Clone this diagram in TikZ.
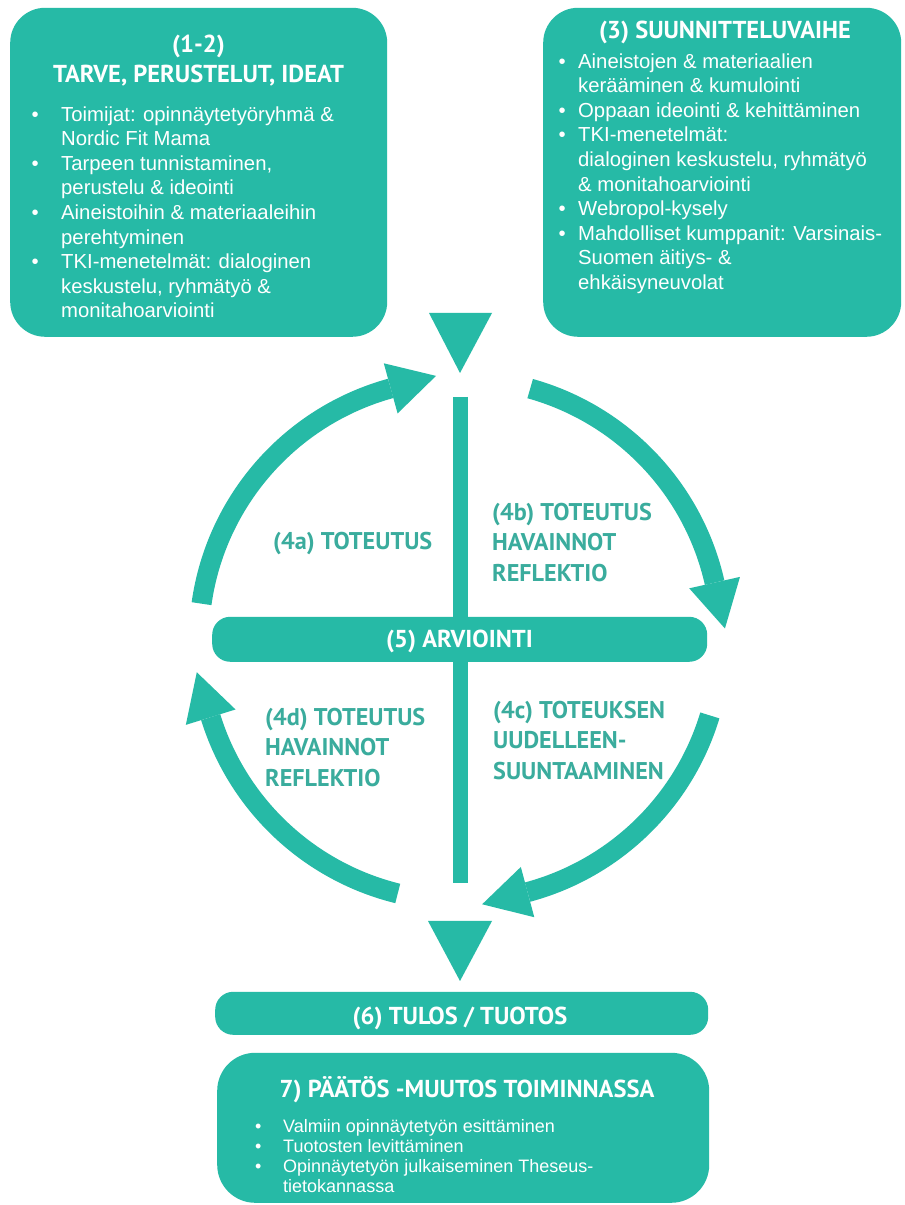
\documentclass[tikz,border=0pt]{standalone}
\usepackage{fontspec}
\setmainfont{Liberation Sans}
\newfontfamily\headfont{PT Sans}
\usetikzlibrary{calc}

\definecolor{tealfill}{RGB}{38,186,166}
\definecolor{tealtext}{RGB}{58,172,157}

\tikzset{
  panel/.style={fill=tealfill, draw=none, rounded corners=#1, inner sep=0pt, anchor=south west},
  headtext/.style={font=\headfont\bfseries\fontsize{24.5}{30}\selectfont, text=white, inner sep=0pt, anchor=base},
  phasetext/.style={font=\headfont\bfseries\fontsize{24.2}{30.5}\selectfont, text=tealtext, inner sep=0pt, anchor=north west, align=left},
  bodytext/.style={font=\fontsize{20.3}{24.6}\selectfont, text=white, inner sep=0pt, anchor=north west, align=left},
  smalltext/.style={font=\fontsize{18}{20}\selectfont, text=white, inner sep=0pt, anchor=north west, align=left},
  shaft/.style={draw=tealfill, line width=20pt},
  pointer/.style={fill=tealfill, draw=none}
}

% one curved arrow of the cycle: arc from #1 to #2 (degrees), head at #2
\newcommand\cyclearrow[2]{%
  \pgfmathsetmacro\tipangle{#2-90}%
  \draw[shaft] ($(C)+(#1:261)$) arc[start angle=#1, end angle=#2, radius=261];
  \fill[pointer] ($(C)+(#2:235)$) -- ($(C)+(#2:287)$) -- ($(C)+(#2:261)+(\tipangle:47)$) -- cycle;
}

\begin{document}
\begin{tikzpicture}[x=1pt,y=1pt]
\useasboundingbox (0,0) rectangle (905,1205);
\fill[white] (0,0) rectangle (905,1205);

% ---- top panels ----
\node[panel=35pt, minimum width=377pt, minimum height=329pt] (needs) at (10,868) {};
\node[headtext] (needsA) at (198.5,1152) {(1-2)};
\node[headtext] (needsB) at (198.5,1122) {TARVE, PERUSTELUT, IDEAT};
\node[bodytext] (needsList) at (31.5,1104) {\rule{0pt}{20pt}\makebox[29.5pt][l]{•}Toimijat: opinnäytetyöryhmä \&\\
\hspace*{29.5pt}Nordic Fit Mama\\
\makebox[29.5pt][l]{•}Tarpeen tunnistaminen,\\
\hspace*{29.5pt}perustelu \& ideointi\\
\makebox[29.5pt][l]{•}Aineistoihin \& materiaaleihin\\
\hspace*{29.5pt}perehtyminen\\
\makebox[29.5pt][l]{•}TKI-menetelmät: dialoginen\\
\hspace*{29.5pt}keskustelu, ryhmätyö \&\\
\hspace*{29.5pt}monitahoarviointi};

\node[panel=35pt, minimum width=358pt, minimum height=329pt] (plan) at (543,868) {};
\node[headtext] (planTitle) at (725,1166) {(3) SUUNNITTELUVAIHE};
\node[bodytext] (planList) at (558.5,1157) {\rule{0pt}{20pt}\makebox[19.5pt][l]{•}Aineistojen \& materiaalien\\
\hspace*{19.5pt}kerääminen \& kumulointi\\
\makebox[19.5pt][l]{•}Oppaan ideointi \& kehittäminen\\
\makebox[19.5pt][l]{•}TKI-menetelmät:\\
\hspace*{19.5pt}dialoginen keskustelu, ryhmätyö\\
\hspace*{19.5pt}\& monitahoarviointi\\
\makebox[19.5pt][l]{•}Webropol-kysely\\
\makebox[19.5pt][l]{•}Mahdolliset kumppanit: Varsinais-\\
\hspace*{19.5pt}Suomen äitiys- \&\\
\hspace*{19.5pt}ehkäisyneuvolat};

% ---- cycle ----
\coordinate (C) at (460,565);
\fill[pointer] (429,892) -- (492,892) -- (460,832) -- cycle;
\coordinate (axisTop) at (460,808);
\coordinate (axisBottom) at (460,322);
\draw[tealfill, line width=15pt] (axisTop) -- (axisBottom);

\cyclearrow{172}{105.4}
\cyclearrow{74.4}{12.7}
\cyclearrow{-16.8}{-75}
\cyclearrow{-103.8}{-162.8}

\node[panel=18pt, minimum width=495pt, minimum height=45pt] (evalbar) at (212,543) {};
\node[headtext] (evalText) at (459.5,557) {(5) ARVIOINTI};

\node[phasetext, anchor=base west] (p4a) at (273,655) {(4a) TOTEUTUS};
\node[phasetext] (p4b) at (492,705) {\rule{0pt}{20pt}(4b) TOTEUTUS\\HAVAINNOT\\REFLEKTIO};
\node[phasetext] (p4c) at (493,507) {\rule{0pt}{20pt}(4c) TOTEUKSEN\\UUDELLEEN-\\SUUNTAAMINEN};
\node[phasetext] (p4d) at (265,500) {\rule{0pt}{20pt}(4d) TOTEUTUS\\HAVAINNOT\\REFLEKTIO};

% ---- result ----
\fill[pointer] (428,284) -- (492,284) -- (460,224) -- cycle;
\node[panel=18pt, minimum width=493pt, minimum height=43pt] (result) at (215,170) {};
\node[headtext] (resultText) at (460,180) {(6) TULOS / TUOTOS};

\node[panel=38pt, minimum width=492pt, minimum height=150pt] (decision) at (217,2) {};
\node[headtext] (decisionTitle) at (467,107) {7) PÄÄTÖS -MUUTOS TOIMINNASSA};
\node[smalltext] (decisionList) at (254.8,93) {\rule{0pt}{20pt}\makebox[28.2pt][l]{•}Valmiin opinnäytetyön esittäminen\\
\makebox[28.2pt][l]{•}Tuotosten levittäminen\\
\makebox[28.2pt][l]{•}Opinnäytetyön julkaiseminen Theseus-\\
\hspace*{28.2pt}tietokannassa};
\end{tikzpicture}
\end{document}
